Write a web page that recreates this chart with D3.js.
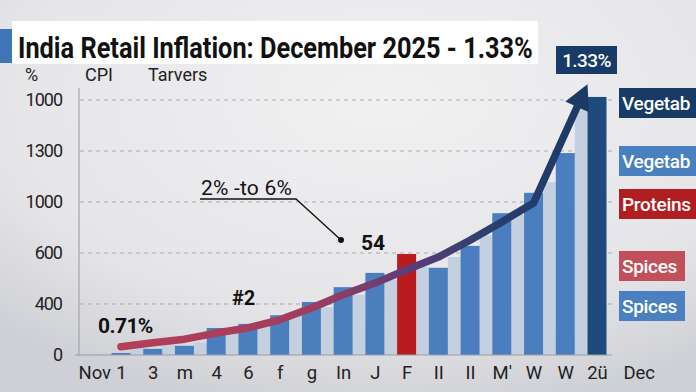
<!DOCTYPE html>
<html>
<head>
<meta charset="utf-8">
<script src="https://cdn.jsdelivr.net/npm/d3@7"></script>
<style>
  body { margin: 0; background: #e6e6e8; }
  svg { display: block; font-family: Roboto, "Noto Sans", sans-serif; }
</style>
</head>
<body>
<script>
// chart data (y in gridline units)
const xLabels = ["Nov", "1", "3", "m", "4", "6", "f", "g", "In", "J", "F", "II", "II", "M'", "W", "W", "2ü", "Dec"];
const yTickLabels = ["0", "400", "600", "1000", "1300", "1000"];
const barIdx = [1, 2, 3, 4, 5, 6, 7, 8, 9, 10, 11, 12, 13, 14, 15, 16];
const barVals = [0.04, 0.12, 0.18, 0.53, 0.61, 0.78, 1.04, 1.33, 1.61, 1.98, 1.71, 2.14, 2.78, 3.18, 3.96, 5.06];
const barKind = ["b", "b", "b", "b", "b", "b", "b", "b", "b", "r", "b", "b", "b", "b", "b", "n"];
const lightVals = [0.14, 0.2, 0.24, 0.49, 0.59, 0.78, 0.94, 1.18, 1.47, 1.73, 1.92, 2.35, 2.75, 3.39, 4.9];
const lineIdx = [1, 2, 3, 4, 5, 6, 7, 8, 9, 10, 11, 12, 13, 14, 15.7];
const lineVals = [0.16, 0.24, 0.31, 0.43, 0.53, 0.69, 0.92, 1.18, 1.41, 1.67, 1.92, 2.25, 2.61, 2.98, 5.31];
const legendItems = [
  { label: "Vegetab", color: "#173a66", y: 88 },
  { label: "Vegetab", color: "#4a7fc0", y: 146 },
  { label: "Proteins", color: "#b11e22", y: 189 },
  { label: "Spices", color: "#c2505b", y: 251 },
  { label: "Spices", color: "#4a7fc0", y: 291 }
];

const W = 696, H = 392;
const colors = { b: "#4a7ebf", r: "#b81c1f", n: "#1f4a7c" };

const svg = d3.select("body").append("svg")
  .attr("width", W).attr("height", H);

const defs = svg.append("defs");
const bg = defs.append("radialGradient").attr("id", "bg")
  .attr("cx", "55%").attr("cy", "25%").attr("r", "80%");
bg.append("stop").attr("offset", "0%").attr("stop-color", "#f1f1f2");
bg.append("stop").attr("offset", "70%").attr("stop-color", "#e5e5e8");
bg.append("stop").attr("offset", "100%").attr("stop-color", "#cfd0d5");
svg.append("rect").attr("width", W).attr("height", H).attr("fill", "url(#bg)");

const x = d3.scaleLinear().domain([1, 16]).range([121, 597]);
const step = x(1) - x(0);
const bw = 19;
const y = d3.scaleLinear().domain([0, 5]).range([355, 100]);

// gridlines
svg.append("g").selectAll("line")
  .data(d3.range(1, 6))
  .join("line")
  .attr("x1", 80).attr("x2", 612)
  .attr("y1", d => y(d)).attr("y2", d => y(d))
  .attr("stroke", "#a9abb0").attr("stroke-width", 1)
  .attr("stroke-dasharray", "4,4");

// light bars in the gaps
svg.append("g").selectAll("rect")
  .data(lightVals)
  .join("rect")
  .attr("x", (d, i) => x(barIdx[i]) + bw / 2)
  .attr("width", step - bw)
  .attr("y", d => y(d))
  .attr("height", d => y(0) - y(d))
  .attr("fill", "#c4d0df");

// main bars
svg.append("g").selectAll("rect")
  .data(barVals)
  .join("rect")
  .attr("x", (d, i) => x(barIdx[i]) - bw / 2)
  .attr("width", bw)
  .attr("y", d => y(d))
  .attr("height", d => y(0) - y(d))
  .attr("fill", (d, i) => colors[barKind[i]]);

// axes
svg.append("line").attr("x1", 75).attr("x2", 612).attr("y1", y(0)).attr("y2", y(0))
  .attr("stroke", "#9a9ca3").attr("stroke-width", 1.2);
svg.append("line").attr("x1", 79).attr("x2", 79).attr("y1", 88).attr("y2", y(0))
  .attr("stroke", "#a3a5ab").attr("stroke-width", 1.2);

const yAxis = svg.append("g")
  .attr("transform", "translate(65,0)")
  .call(d3.axisLeft(y).tickValues(d3.range(0, 6)).tickSize(0).tickFormat(i => yTickLabels[i]));
yAxis.select(".domain").remove();
yAxis.selectAll("text").attr("font-size", 18).attr("fill", "#222")
  .attr("font-family", "Roboto").attr("letter-spacing", "-1");

const xAxis = svg.append("g")
  .attr("transform", `translate(0,${y(0) + 8})`)
  .call(d3.axisBottom(x).tickValues(d3.range(0, 18)).tickSize(0).tickFormat(i => xLabels[i]));
xAxis.select(".domain").remove();
xAxis.selectAll("text").attr("font-size", 18.5).attr("fill", "#222")
  .attr("font-family", "Roboto")
  .attr("dx", (d) => d === 0 ? 5 : d === 17 ? 10 : 0);

// trend line
const lg = defs.append("linearGradient").attr("id", "lineGrad")
  .attr("gradientUnits", "userSpaceOnUse")
  .attr("x1", x(1)).attr("x2", x(15.7)).attr("y1", 0).attr("y2", 0);
lg.append("stop").attr("offset", "0%").attr("stop-color", "#b53f58");
lg.append("stop").attr("offset", "40%").attr("stop-color", "#a03d5f");
lg.append("stop").attr("offset", "62%").attr("stop-color", "#5a3e78");
lg.append("stop").attr("offset", "80%").attr("stop-color", "#2a3e6e");
lg.append("stop").attr("offset", "100%").attr("stop-color", "#1b3a66");

const pts = lineIdx.map((d, i) => [x(d), y(lineVals[i])]);
const tip = pts[pts.length - 1], prev = pts[pts.length - 2];
const ang = Math.atan2(tip[1] - prev[1], tip[0] - prev[0]);
const headLen = 25, headHalf = 13;
const lineEnd = [tip[0] - Math.cos(ang) * (headLen - 4), tip[1] - Math.sin(ang) * (headLen - 4)];

svg.append("path")
  .attr("d", d3.line().curve(d3.curveLinear)([...pts.slice(0, -1), lineEnd]))
  .attr("fill", "none")
  .attr("stroke", "url(#lineGrad)")
  .attr("stroke-width", 7.5)
  .attr("stroke-linecap", "round")
  .attr("stroke-linejoin", "round");

const bx = tip[0] - Math.cos(ang) * headLen, by = tip[1] - Math.sin(ang) * headLen;
svg.append("polygon")
  .attr("points", [
    tip,
    [bx + Math.sin(ang) * headHalf, by - Math.cos(ang) * headHalf],
    [bx - Math.sin(ang) * headHalf, by + Math.cos(ang) * headHalf]
  ].map(p => p.join(",")).join(" "))
  .attr("fill", "#1b3a66");

// title
svg.append("rect").attr("x", 0).attr("y", 29).attr("width", 12).attr("height", 34).attr("fill", "#3f74b8");
svg.append("rect").attr("x", 12).attr("y", 21).attr("width", 526).attr("height", 43).attr("fill", "#ffffff");
const title = svg.append("text")
  .attr("font-size", 29).attr("font-weight", 700).attr("fill", "#111")
  .text("India Retail Inflation: December 2025 - 1.33%");
const tLen = title.node().getComputedTextLength();
title.attr("transform", `translate(18,58) scale(${515 / tLen},1)`);

svg.append("g").selectAll("text")
  .data([["%", 25], ["CPI", 85], ["Tarvers", 148]])
  .join("text")
  .attr("x", d => d[1]).attr("y", 81)
  .attr("font-size", 18).attr("fill", "#222")
  .text(d => d[0]);

// 1.33% badge
svg.append("rect").attr("x", 556).attr("y", 46).attr("width", 61).attr("height", 28).attr("fill", "#173a66");
svg.append("text").attr("x", 586.5).attr("y", 67).attr("text-anchor", "middle")
  .attr("font-size", 19).attr("font-weight", 500).attr("fill", "#fff")
  .attr("letter-spacing", "-0.6")
  .text("1.33%");

// annotations
svg.append("text").attr("x", 98).attr("y", 333).attr("font-size", 21).attr("font-weight", 700)
  .attr("fill", "#111").attr("letter-spacing", "-0.6").text("0.71%");
svg.append("text").attr("x", 232).attr("y", 305).attr("font-size", 20).attr("font-weight", 700)
  .attr("fill", "#111").text("#2");
svg.append("text").attr("x", 361).attr("y", 250).attr("font-size", 21).attr("font-weight", 700)
  .attr("fill", "#111").text("54");
svg.append("text").attr("x", 201).attr("y", 195).attr("font-size", 21)
  .attr("fill", "#111").attr("letter-spacing", "0.2").text("2% -to 6%");
svg.append("polyline").attr("points", "200,199 296,199 341,240")
  .attr("fill", "none").attr("stroke", "#111").attr("stroke-width", 1.3);
svg.append("circle").attr("cx", 341).attr("cy", 240).attr("r", 3).attr("fill", "#111");

// legend chips
const leg = svg.append("g").selectAll("g")
  .data(legendItems)
  .join("g")
  .attr("transform", d => `translate(619,${d.y})`);
leg.append("rect")
  .attr("width", d => d.label === "Spices" ? 66 : 80)
  .attr("height", 30)
  .attr("fill", d => d.color);
leg.append("text").attr("x", 3).attr("y", 22)
  .attr("font-size", 19).attr("font-weight", 500).attr("fill", "#fff")
  .attr("letter-spacing", "-0.3")
  .text(d => d.label);
</script>
</body>
</html>
